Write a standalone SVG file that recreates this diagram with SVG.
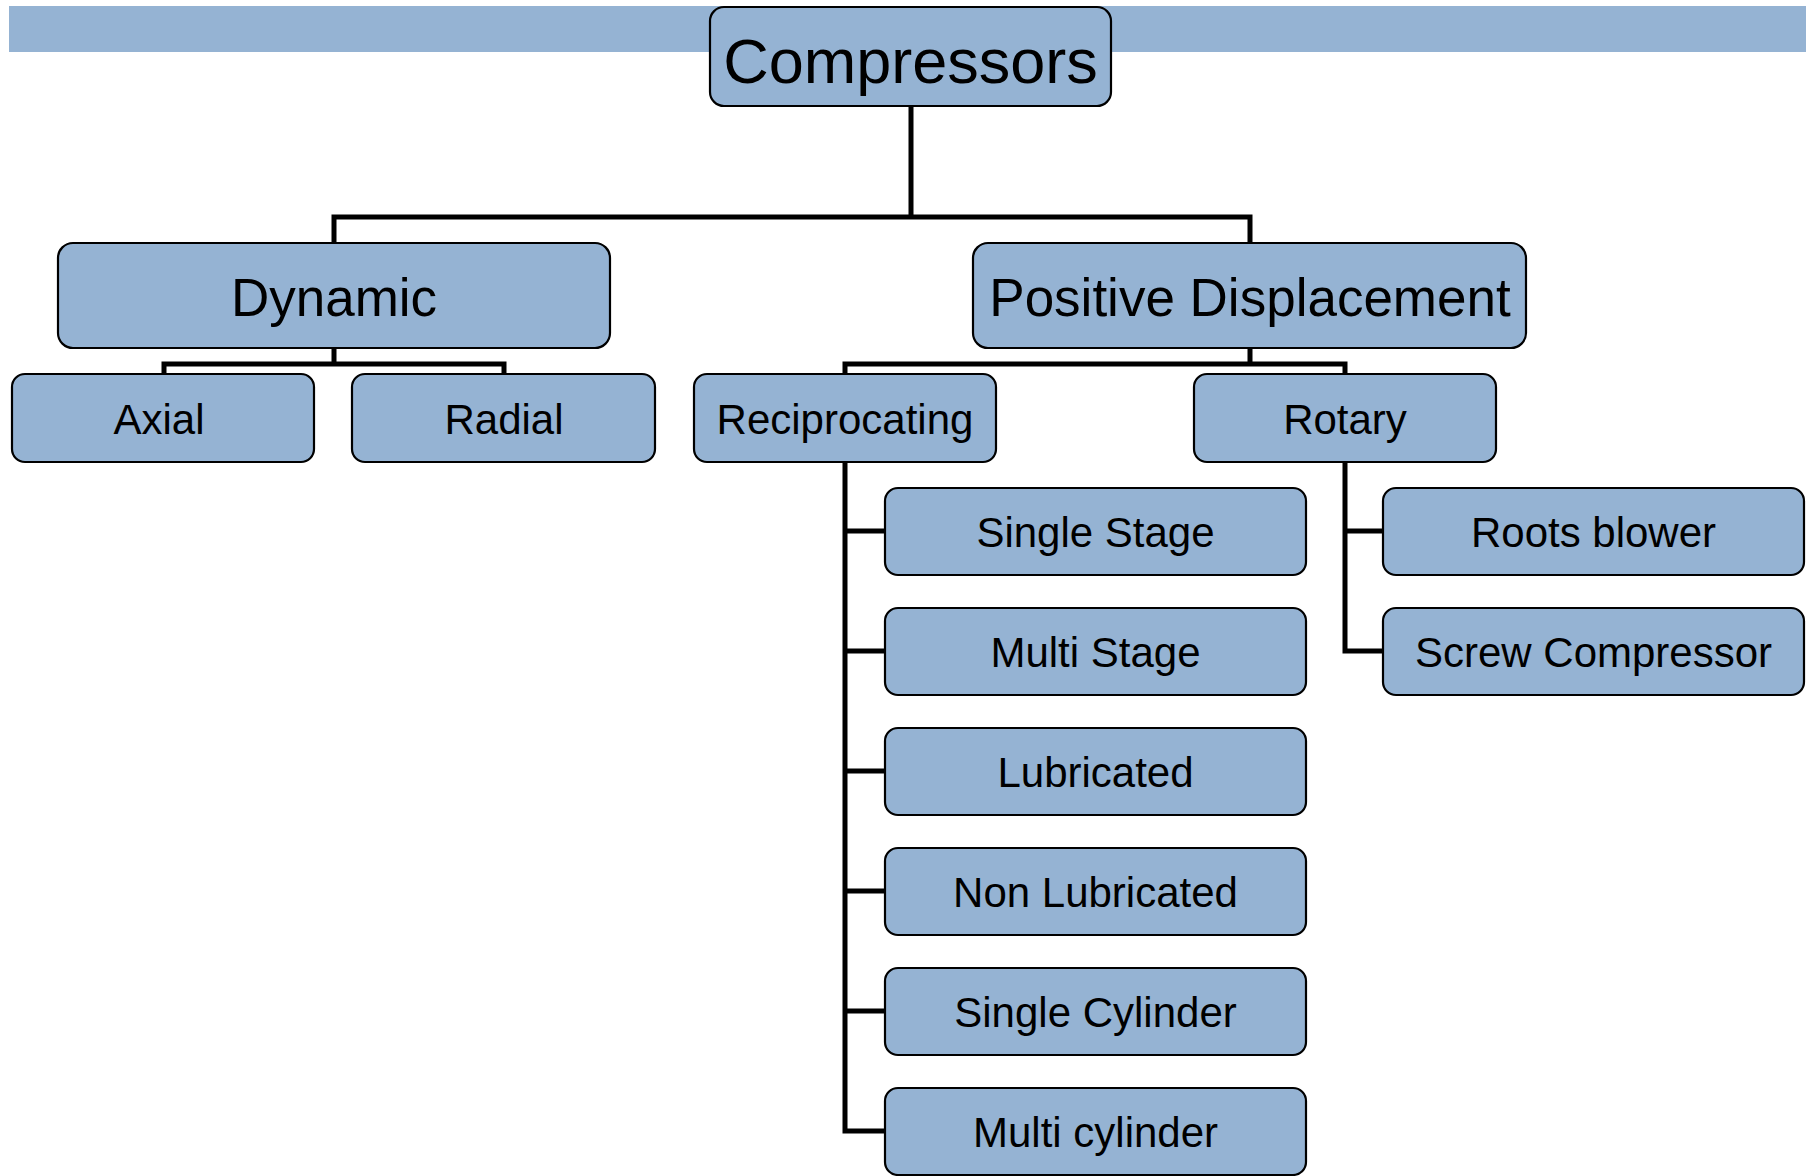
<svg xmlns="http://www.w3.org/2000/svg" width="1806" height="1176" viewBox="0 0 1806 1176">
<style>
.box{fill:#95b3d3;stroke:#000;stroke-width:2.2}
.t{font-family:"Liberation Sans",Arial,sans-serif;fill:#000;text-anchor:middle}
.t1{font-size:63px}
.t2{font-size:53px}
.t3{font-size:42px}
.c{fill:none;stroke:#000;stroke-width:5;stroke-linejoin:miter;stroke-linecap:square}
</style>
<rect width="1806" height="1176" fill="#fff"/>
<rect x="9" y="6" width="1797" height="46" fill="#95b3d3"/>
<g id="connectors">
<path class="c" d="M911 107V217M334 243V217H1250V243"/>
<path class="c" d="M334 348V364M164 374V364H504V374"/>
<path class="c" d="M1250 348V364M845 374V364H1345V374"/>
<path class="c" d="M845 462V1131H885M845 531H885M845 651H885M845 771H885M845 891H885M845 1011H885"/>
<path class="c" d="M1345 462V651H1383M1345 531H1383"/>
</g>
<g id="compressors"><rect class="box" x="710" y="7" width="401" height="99" rx="14"/><text class="t t1" x="910.5" y="83">Compressors</text></g>
<g id="dynamic"><rect class="box" x="58" y="243" width="552" height="105" rx="15"/><text class="t t2" x="334" y="316">Dynamic</text></g>
<g id="positive-displacement"><rect class="box" x="973" y="243" width="553" height="105" rx="15"/><text class="t t2" x="1250" y="316">Positive Displacement</text></g>
<g id="axial"><rect class="box" x="12" y="374" width="302" height="88" rx="13"/><text class="t t3" x="159" y="434">Axial</text></g>
<g id="radial"><rect class="box" x="352" y="374" width="303" height="88" rx="13"/><text class="t t3" x="504" y="434">Radial</text></g>
<g id="reciprocating"><rect class="box" x="694" y="374" width="302" height="88" rx="13"/><text class="t t3" x="845" y="434">Reciprocating</text></g>
<g id="rotary"><rect class="box" x="1194" y="374" width="302" height="88" rx="13"/><text class="t t3" x="1345" y="434">Rotary</text></g>
<g id="single-stage"><rect class="box" x="885" y="488" width="421" height="87" rx="13"/><text class="t t3" x="1095.5" y="547">Single Stage</text></g>
<g id="multi-stage"><rect class="box" x="885" y="608" width="421" height="87" rx="13"/><text class="t t3" x="1095.5" y="667">Multi Stage</text></g>
<g id="lubricated"><rect class="box" x="885" y="728" width="421" height="87" rx="13"/><text class="t t3" x="1095.5" y="787">Lubricated</text></g>
<g id="non-lubricated"><rect class="box" x="885" y="848" width="421" height="87" rx="13"/><text class="t t3" x="1095.5" y="907">Non Lubricated</text></g>
<g id="single-cylinder"><rect class="box" x="885" y="968" width="421" height="87" rx="13"/><text class="t t3" x="1095.5" y="1027">Single Cylinder</text></g>
<g id="multi-cylinder"><rect class="box" x="885" y="1088" width="421" height="87" rx="13"/><text class="t t3" x="1095.5" y="1147">Multi cylinder</text></g>
<g id="roots-blower"><rect class="box" x="1383" y="488" width="421" height="87" rx="13"/><text class="t t3" x="1593.5" y="547">Roots blower</text></g>
<g id="screw-compressor"><rect class="box" x="1383" y="608" width="421" height="87" rx="13"/><text class="t t3" x="1593.5" y="667">Screw Compressor</text></g>
</svg>
